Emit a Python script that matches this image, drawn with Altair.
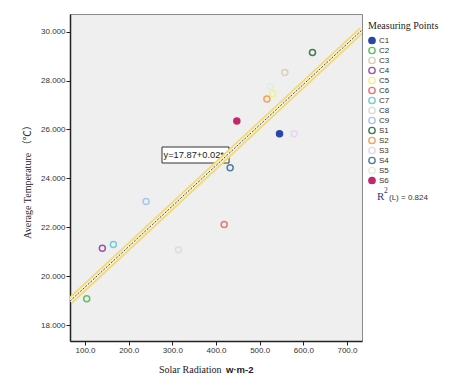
import altair as alt
import pandas as pd

# ---- data ----
points = ["C1", "C2", "C3", "C4", "C5", "C6", "C7", "C8", "C9",
          "S1", "S2", "S3", "S4", "S5", "S6"]
radiation = [545.5, 103.9, 557.8, 139.7, 530.0, 418.7, 165.0, 313.9, 239.8,
             621.0, 516.5, 579.0, 432.4, 524.0, 447.7]
temperature = [25.82, 19.08, 28.33, 21.14, 27.46, 22.11, 21.30, 21.08, 23.05,
               29.15, 27.24, 25.82, 24.43, 27.76, 26.34]
stroke_colors = ["#2b47a6", "#5cc45c", "#d9d2b4", "#9a55a8", "#f4f08c", "#ef7373",
                 "#70cfd0", "#dcdcdc", "#a9c6ee", "#3f7d50", "#f4a456", "#ead4f2",
                 "#4f7f9c", "#dff0d8", "#c4276b"]
fill_colors = ["#2b47a6"] + ["transparent"] * 13 + ["#c4276b"]

x_ticks = [100, 200, 300, 400, 500, 600, 700]
y_ticks = [18, 20, 22, 24, 26, 28, 30]
x_domain = [65.6, 734.4]
y_domain = [17.35, 30.72]

fit_label = "y=17.87+0.02*x"
r2_value = "(L) = 0.824"

df = pd.DataFrame({"point": points, "radiation": radiation, "temperature": temperature})

X = alt.X("radiation:Q", scale=alt.Scale(domain=x_domain, nice=False, zero=False),
          axis=alt.Axis(values=x_ticks, format=".1f", title=None))
Y = alt.Y("temperature:Q", scale=alt.Scale(domain=y_domain, nice=False, zero=False),
          axis=alt.Axis(values=y_ticks, format=".3f",
                        title="Average Temperature （℃）",
                        titleFont="Liberation Serif, Noto Sans CJK SC",
                        titleFontSize=10, titleFontWeight="normal",
                        titleColor="#222", titleX=-43, titleY=165,
                        titleBaseline="middle", titleAngle=270))

legend = alt.Legend(title="Measuring Points", orient="none", legendX=298, legendY=7,
                    titleFont="Liberation Serif", titleFontSize=10, titleFontWeight="normal",
                    titleColor="#222", titlePadding=5, labelFont="Liberation Sans",
                    labelFontSize=8, labelColor="#333", symbolSize=40,
                    symbolStrokeWidth=1.4, rowPadding=1, clipHeight=9,
                    labelOffset=3, padding=0)

base = alt.Chart(df)

# label box for the fit equation
box = alt.Chart(pd.DataFrame({"t": [fit_label]})).mark_rect(
    fill="white", stroke="#333", strokeWidth=1
).encode(x=alt.value(92), x2=alt.value(159), y=alt.value(133), y2=alt.value(149))
box_text = alt.Chart(pd.DataFrame({"t": [fit_label]})).mark_text(
    align="left", baseline="middle", font="Liberation Sans", fontSize=9.3, color="#222"
).encode(x=alt.value(93.5), y=alt.value(141), text="t:N")

reg = base.transform_regression("radiation", "temperature", extent=x_domain)
glow = reg.mark_line(color="#f2d978", strokeWidth=7, clip=True).encode(x=X, y=Y)
inner = reg.mark_line(color="#f8f3d6", strokeWidth=3.5, clip=True).encode(x=X, y=Y)
dash = reg.mark_line(color="#3b4060", strokeWidth=1, strokeDash=[2, 1.5], clip=True).encode(x=X, y=Y)

pts = base.mark_point(size=36, strokeWidth=1.5, opacity=1).encode(
    x=X, y=Y,
    stroke=alt.Stroke("point:N", scale=alt.Scale(domain=points, range=stroke_colors), legend=legend),
    fill=alt.Fill("point:N", scale=alt.Scale(domain=points, range=fill_colors), legend=legend),
)

# x-axis title pieces
xt1 = alt.Chart(pd.DataFrame({"t": ["Solar Radiation"]})).mark_text(
    align="left", baseline="middle", font="Liberation Serif", fontSize=10, color="#222"
).encode(x=alt.value(89), y=alt.value(355.5), text="t:N")
xt2 = alt.Chart(pd.DataFrame({"t": ["w·m-2"]})).mark_text(
    align="left", baseline="middle", font="Liberation Sans", fontSize=9.5,
    fontWeight="bold", color="#222"
).encode(x=alt.value(156), y=alt.value(355.5), text="t:N")

# R^2 annotation
r_txt = alt.Chart(pd.DataFrame({"t": ["R"]})).mark_text(
    align="left", baseline="middle", font="Liberation Serif", fontSize=11, color="#2b3a80"
).encode(x=alt.value(307), y=alt.value(183), text="t:N")
sup_txt = alt.Chart(pd.DataFrame({"t": ["2"]})).mark_text(
    align="left", baseline="middle", font="Liberation Serif", fontSize=7.5, color="#2b3a80"
).encode(x=alt.value(314), y=alt.value(177), text="t:N")
r2_txt = alt.Chart(pd.DataFrame({"t": [r2_value]})).mark_text(
    align="left", baseline="middle", font="Liberation Sans", fontSize=8, color="#333"
).encode(x=alt.value(319), y=alt.value(183.5), text="t:N")

chart = alt.layer(box, box_text, glow, inner, dash, pts, xt1, xt2, r_txt, sup_txt, r2_txt).properties(
    width=292, height=327,
    autosize=alt.AutoSizeParams(type="none"),
    padding={"left": 62, "top": 6, "right": 84, "bottom": 40},
    background="white",
).configure_view(
    fill="#efefef", stroke="#8a8a8a", strokeWidth=1
).configure_axis(
    grid=False, domainColor="#222", domainWidth=1.5, tickColor="#222", tickSize=4,
    labelFont="Liberation Sans", labelFontSize=8, labelColor="#333", labelPadding=1
)

chart.save("out.html", embed_options={"renderer": "svg", "actions": False})
